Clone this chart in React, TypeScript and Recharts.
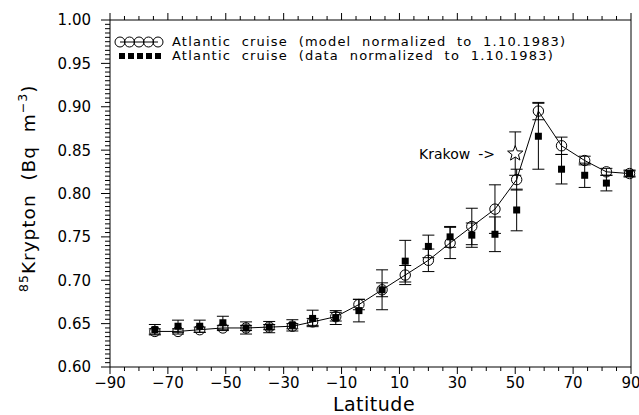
import React from "react";
import { ComposedChart, Line, Scatter, XAxis, YAxis, ErrorBar } from "recharts";

// Atlantic cruise, values
const latitudes = [-74.5, -66.5, -59, -51, -43, -35, -27, -20, -12, -4, 4, 12, 20, 27.5, 35, 43, 50.5, 58, 66, 74, 81.5, 89.5];
const modelValues = [0.641, 0.641, 0.643, 0.645, 0.645, 0.646, 0.647, 0.652, 0.658, 0.672, 0.689, 0.706, 0.723, 0.743, 0.762, 0.782, 0.816, 0.895, 0.855, 0.838, 0.825, 0.823];
const modelErrors = [0.003, 0.003, 0.003, 0.003, 0.003, 0.003, 0.003, 0.004, 0.005, 0.006, 0.008, 0.011, 0.013, 0.018, 0.021, 0.028, 0.012, 0.01, 0.01, 0.005, 0.004, 0.003];
const dataValues = [0.643, 0.647, 0.647, 0.651, 0.645, 0.646, 0.648, 0.656, 0.657, 0.665, 0.689, 0.722, 0.739, 0.75, 0.752, 0.753, 0.781, 0.866, 0.828, 0.821, 0.812, 0.823];
const dataErrors = [0.006, 0.007, 0.007, 0.0075, 0.007, 0.0065, 0.0065, 0.0095, 0.008, 0.013, 0.023, 0.024, 0.013, 0.012, 0.014, 0.02, 0.024, 0.038, 0.017, 0.014, 0.009, 0.004];

const krakowLat = 50;
const krakowValue = 0.846;
const krakowError = 0.025;

const xMajorTicks = [-90, -70, -50, -30, -10, 10, 30, 50, 70, 90];
const yMajorTicks = [0.6, 0.65, 0.7, 0.75, 0.8, 0.85, 0.9, 0.95, 1.0];
const xMinorTicks = Array.from({ length: 37 }, (_, i) => -90 + i * 5);
const yMinorTicks = Array.from({ length: 81 }, (_, i) => Math.round((0.6 + i * 0.005) * 1000) / 1000);

const rows = latitudes.map((lat, i) => ({
  lat,
  model: modelValues[i],
  modelErr: modelErrors[i],
  data: dataValues[i],
  dataErr: dataErrors[i],
}));
const krakow = [{ lat: krakowLat, value: krakowValue, err: krakowError }];

const FONT = "DejaVu Sans";
const isMajorX = (v: number) => xMajorTicks.includes(v);
const isMajorY = (v: number) => yMajorTicks.some((m) => Math.abs(m - v) < 1e-6);
const fmtX = (v: number) => (v < 0 ? `\u2212${Math.abs(v)}` : `${v}`);

function BottomTick({ x, y, payload }: any) {
  const major = isMajorX(payload.value);
  return (
    <g>
      <line x1={x} y1={y} x2={x} y2={y + (major ? 7 : 4)} stroke="#000" />
      {major && (
        <text x={x} y={y + 21} textAnchor="middle" fontSize={15} fontFamily={FONT} fill="#000">
          {fmtX(payload.value)}
        </text>
      )}
    </g>
  );
}

function TopTick({ x, y, payload }: any) {
  const major = isMajorX(payload.value);
  return <line x1={x} y1={y} x2={x} y2={y - (major ? 7 : 4)} stroke="#000" />;
}

function LeftTick({ x, y, payload }: any) {
  const major = isMajorY(payload.value);
  return (
    <g>
      <line x1={x} y1={y} x2={x - (major ? 9 : 5)} y2={y} stroke="#000" />
      {major && (
        <text x={x - 19} y={y} dy="0.36em" textAnchor="end" fontSize={15} fontFamily={FONT} fill="#000">
          {payload.value.toFixed(2)}
        </text>
      )}
    </g>
  );
}

function RightTick({ x, y, payload }: any) {
  const major = isMajorY(payload.value);
  return <line x1={x} y1={y} x2={x + (major ? 7 : 4)} y2={y} stroke="#000" />;
}

function renderCircle(props: any) {
  const { cx, cy, index } = props;
  return <circle key={`c${index}`} cx={cx} cy={cy} r={5.2} fill="none" stroke="#000" strokeWidth={1} />;
}

function renderSquare(props: any) {
  const { cx, cy, index } = props;
  return <rect key={`s${index}`} x={cx - 3.5} y={cy - 3.5} width={7} height={7} fill="#000" />;
}

function renderStar(props: any) {
  const { cx, cy } = props;
  const pts: string[] = [];
  for (let i = 0; i < 10; i++) {
    const r = i % 2 === 0 ? 8 : 3.4;
    const a = -Math.PI / 2 + (i * Math.PI) / 5;
    pts.push(`${cx + r * Math.cos(a)},${cy + r * Math.sin(a)}`);
  }
  return (
    <g>
      <polygon points={pts.join(" ")} fill="#fff" stroke="#000" strokeWidth={1} />
      <text x={cx - 45} y={cy + 5} textAnchor="end" fontSize={14} fontFamily={FONT} fill="#000">
        Krakow
      </text>
      <text x={cx - 37} y={cy + 5} textAnchor="start" fontSize={14} fontFamily={FONT} fill="#000">
        {"->"}
      </text>
    </g>
  );
}

function YTitle() {
  return (
    <text
      x={35}
      y={292}
      transform="rotate(-90, 35, 292)"
      textAnchor="start"
      fontSize={18.5}
      fontFamily={FONT}
      letterSpacing={1}
      fill="#000"
      style={{ whiteSpace: "pre" }}
    >
      <tspan fontSize={12.5} dy={-7}>85</tspan>
      <tspan dy={7}>{"Krypton  (Bq  m"}</tspan>
      <tspan fontSize={12.5} dy={-8}>{"\u22123"}</tspan>
      <tspan dy={8}>)</tspan>
    </text>
  );
}

function XTitle() {
  return (
    <text x={374} y={411} textAnchor="middle" fontSize={19} letterSpacing={0.5} fontFamily={FONT} fill="#000">
      Latitude
    </text>
  );
}

function LegendBox() {
  const text: React.CSSProperties = {
    fontFamily: FONT,
    fontSize: 13,
    letterSpacing: 1.2,
    whiteSpace: "pre",
    lineHeight: "14px",
    marginLeft: 7,
  };
  return (
    <div style={{ position: "absolute", left: 113, top: 35 }}>
      <div style={{ display: "flex", alignItems: "center", height: 14 }}>
        <svg width={52} height={14}>
          <line x1={7} y1={7} x2={45} y2={7} stroke="#000" />
          {[0, 1, 2, 3, 4].map((i) => (
            <circle key={i} cx={7 + i * 9.5} cy={7} r={5} fill="none" stroke="#000" />
          ))}
        </svg>
        <span style={text}>{"Atlantic  cruise  (model  normalized  to  1.10.1983)"}</span>
      </div>
      <div style={{ display: "flex", alignItems: "center", height: 14 }}>
        <svg width={52} height={14}>
          {[0, 1, 2, 3, 4].map((i) => (
            <rect key={i} x={6 + i * 9} y={4} width={6} height={6} fill="#000" />
          ))}
        </svg>
        <span style={text}>{"Atlantic  cruise  (data  normalized  to  1.10.1983)"}</span>
      </div>
    </div>
  );
}

export default function App() {
  return (
    <div style={{ position: "relative", width: 639, height: 415 }}>
      <style>{`body { margin: 0; overflow: hidden; }`}</style>
      <ComposedChart width={639} height={415} data={rows} margin={{ top: 0, right: 0, bottom: 0, left: 0 }}>
        <XAxis
          dataKey="lat"
          type="number"
          domain={[-90, 90]}
          ticks={xMinorTicks}
          interval={0}
          height={48}
          tickLine={false}
          tickSize={0}
          tickMargin={0}
          tick={<BottomTick />}
          axisLine={{ stroke: "#000" }}
          label={{ content: () => <XTitle /> }}
        />
        <XAxis
          xAxisId="top"
          orientation="top"
          type="number"
          dataKey="lat"
          domain={[-90, 90]}
          ticks={xMinorTicks}
          interval={0}
          height={20}
          tickLine={false}
          tickSize={0}
          tickMargin={0}
          tick={<TopTick />}
          axisLine={{ stroke: "#000" }}
        />
        <YAxis
          type="number"
          domain={[0.6, 1.0]}
          ticks={yMinorTicks}
          interval={0}
          width={110}
          tickLine={false}
          tickSize={0}
          tickMargin={0}
          tick={<LeftTick />}
          axisLine={{ stroke: "#000" }}
          label={{ content: () => <YTitle /> }}
        />
        <YAxis
          yAxisId="right"
          orientation="right"
          type="number"
          domain={[0.6, 1.0]}
          ticks={yMinorTicks}
          interval={0}
          width={8}
          tickLine={false}
          tickSize={0}
          tickMargin={0}
          tick={<RightTick />}
          axisLine={{ stroke: "#000" }}
        />
        <Line
          dataKey="model"
          type="linear"
          stroke="#000"
          strokeWidth={1}
          dot={renderCircle}
          activeDot={false}
          isAnimationActive={false}
        >
          <ErrorBar dataKey="modelErr" direction="y" width={6} stroke="#000" strokeWidth={1} />
        </Line>
        <Line
          dataKey="data"
          type="linear"
          stroke="none"
          dot={renderSquare}
          activeDot={false}
          isAnimationActive={false}
        >
          <ErrorBar dataKey="dataErr" direction="y" width={6} stroke="#000" strokeWidth={1} />
        </Line>
        <Scatter data={krakow} dataKey="value" shape={renderStar} isAnimationActive={false}>
          <ErrorBar dataKey="err" direction="y" width={6} stroke="#000" strokeWidth={1} />
        </Scatter>
      </ComposedChart>
      <LegendBox />
    </div>
  );
}
